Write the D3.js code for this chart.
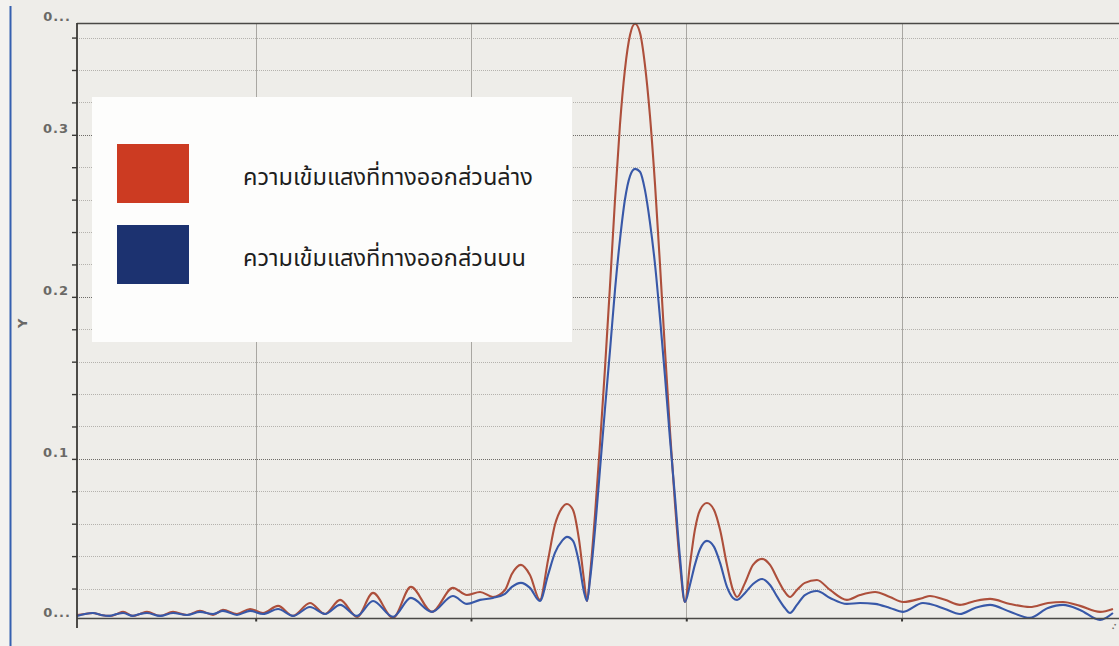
<!DOCTYPE html>
<html>
<head>
<meta charset="utf-8">
<script src="https://cdn.jsdelivr.net/npm/d3@7"></script>
<style>
  html, body { margin: 0; padding: 0; background: #eeede9; }
  svg { display: block; }
  .tick-label { font-family: "DejaVu Sans", sans-serif; font-size: 13px; font-weight: bold; fill: #6a6966; letter-spacing: 1px; }
  .legend-text { font-family: "Noto Sans Thai", "Noto Sans", sans-serif; font-size: 23.5px; fill: #1e1e1e; }
</style>
</head>
<body>
<svg id="chart" width="1119" height="646"></svg>
<script>
// Position along the screen (arbitrary units)
const positions = [
  0.170, 0.207, 0.244, 0.281, 0.323, 0.356, 0.384, 0.430, 0.463, 0.495,
  0.556, 0.616, 0.681, 0.741, 0.802, 0.848, 0.913, 0.974, 1.034, 1.104,
  1.173, 1.252, 1.322, 1.392, 1.471, 1.545, 1.638, 1.721, 1.819, 1.916,
  1.981, 2.042, 2.102, 2.158, 2.190, 2.232, 2.274, 2.320, 2.358, 2.390,
  2.423, 2.446, 2.474, 2.502, 2.525, 2.539, 2.553, 2.576, 2.599, 2.622,
  2.646, 2.669, 2.692, 2.715, 2.739, 2.762, 2.785, 2.808, 2.831, 2.855,
  2.878, 2.901, 2.924, 2.948, 2.971, 2.994, 3.017, 3.040, 3.064, 3.096,
  3.129, 3.157, 3.189, 3.217, 3.236, 3.273, 3.310, 3.352, 3.389, 3.426,
  3.458, 3.482, 3.514, 3.551, 3.607, 3.668, 3.746, 3.807, 3.877, 3.946,
  4.007, 4.099, 4.132, 4.202, 4.271, 4.341, 4.411, 4.504, 4.596, 4.680,
  4.750, 4.829, 4.922, 4.982
];

// Light intensity at the lower exit
const lowerExit = [
  0.0037, 0.0043, 0.0049, 0.0037, 0.0031, 0.0043, 0.0056, 0.0031, 0.0043, 0.0056,
  0.0031, 0.0056, 0.0037, 0.0062, 0.0037, 0.0068, 0.0043, 0.0074, 0.0049, 0.0093,
  0.0031, 0.0111, 0.0043, 0.0130, 0.0025, 0.0173, 0.0019, 0.0210, 0.0056, 0.0204,
  0.0160, 0.0179, 0.0148, 0.0191, 0.0290, 0.0346, 0.0284, 0.0130, 0.0377, 0.0593,
  0.0698, 0.0722, 0.0685, 0.0500, 0.0253, 0.0123, 0.0284, 0.0654, 0.1086, 0.1549,
  0.2074, 0.2599, 0.3062, 0.3401, 0.3617, 0.3685, 0.3630, 0.3432, 0.3123, 0.2691,
  0.2198, 0.1673, 0.1179, 0.0716, 0.0346, 0.0117, 0.0346, 0.0562, 0.0685, 0.0728,
  0.0685, 0.0562, 0.0346, 0.0191, 0.0148, 0.0235, 0.0346, 0.0383, 0.0346, 0.0253,
  0.0179, 0.0148, 0.0191, 0.0235, 0.0253, 0.0191, 0.0130, 0.0160, 0.0179, 0.0148,
  0.0117, 0.0142, 0.0154, 0.0130, 0.0099, 0.0123, 0.0136, 0.0105, 0.0086, 0.0111,
  0.0117, 0.0093, 0.0056, 0.0074
];

// Light intensity at the upper exit
const upperExit = [
  0.0031, 0.0043, 0.0049, 0.0037, 0.0031, 0.0043, 0.0049, 0.0031, 0.0043, 0.0049,
  0.0031, 0.0049, 0.0037, 0.0056, 0.0043, 0.0062, 0.0037, 0.0062, 0.0043, 0.0074,
  0.0031, 0.0086, 0.0043, 0.0099, 0.0031, 0.0123, 0.0025, 0.0142, 0.0056, 0.0154,
  0.0105, 0.0130, 0.0142, 0.0167, 0.0210, 0.0235, 0.0204, 0.0123, 0.0284, 0.0420,
  0.0494, 0.0519, 0.0494, 0.0358, 0.0179, 0.0123, 0.0253, 0.0562, 0.0932, 0.1302,
  0.1673, 0.2043, 0.2352, 0.2599, 0.2747, 0.2790, 0.2772, 0.2660, 0.2463, 0.2198,
  0.1870, 0.1512, 0.1130, 0.0759, 0.0389, 0.0117, 0.0222, 0.0346, 0.0444, 0.0494,
  0.0457, 0.0358, 0.0210, 0.0142, 0.0130, 0.0173, 0.0228, 0.0259, 0.0222, 0.0142,
  0.0080, 0.0049, 0.0099, 0.0160, 0.0185, 0.0142, 0.0105, 0.0111, 0.0105, 0.0080,
  0.0056, 0.0111, 0.0105, 0.0074, 0.0043, 0.0080, 0.0099, 0.0056, 0.0019, 0.0080,
  0.0099, 0.0068, 0.0006, 0.0049
];

const seriesNames = ["ความเข้มแสงที่ทางออกส่วนล่าง", "ความเข้มแสงที่ทางออกส่วนบน"];
const seriesColors = ["#ad4f3b", "#3858a8"];
const swatchColors = ["#cc3b22", "#1c3270"];

const yMinorTicks = [0.02, 0.04, 0.06, 0.08, 0.1, 0.12, 0.14, 0.16, 0.18, 0.2,
                     0.22, 0.24, 0.26, 0.28, 0.3, 0.32, 0.34, 0.36];
const yMajorTicks = [0.1, 0.2, 0.3];
const yTickLabels = ["0.1", "0.2", "0.3"];
const yEndLabel = "0...";
const xTicks = [1, 2, 3, 4];
const yDomain = [0.0015, 0.369];
const xDomain = [0.17, 5.01];

const svg = d3.select("#chart");
const W = 1119, H = 646;
const plot = { left: 77, top: 23, right: 1119, bottom: 618.5 };

const x = d3.scaleLinear().domain(xDomain).range([plot.left, plot.right]);
const y = d3.scaleLinear().domain(yDomain).range([plot.bottom, plot.top]);

// window frame edge
svg.append("rect").attr("x", 0).attr("y", 0).attr("width", 10).attr("height", H).attr("fill", "#f3f2ef");
svg.append("line").attr("x1", 10.5).attr("x2", 10.5).attr("y1", 6).attr("y2", H)
  .attr("stroke", "#3560b0").attr("stroke-width", 2);

// horizontal grid
const grid = svg.append("g");
grid.selectAll("line.minor").data(yMinorTicks.filter(v => !yMajorTicks.includes(v)))
  .join("line").attr("class", "minor")
  .attr("x1", plot.left).attr("x2", plot.right)
  .attr("y1", d => Math.round(y(d)) + 0.5).attr("y2", d => Math.round(y(d)) + 0.5)
  .attr("stroke", "#b4b2ad").attr("stroke-width", 1).attr("stroke-dasharray", "1,1");
grid.selectAll("line.major").data(yMajorTicks)
  .join("line").attr("class", "major")
  .attr("x1", plot.left).attr("x2", plot.right)
  .attr("y1", d => Math.round(y(d)) + 0.5).attr("y2", d => Math.round(y(d)) + 0.5)
  .attr("stroke", "#6e6c68").attr("stroke-width", 1.2).attr("stroke-dasharray", "1,1");

// vertical grid
grid.selectAll("line.vx").data(xTicks)
  .join("line").attr("class", "vx")
  .attr("x1", d => Math.round(x(d)) + 0.5).attr("x2", d => Math.round(x(d)) + 0.5)
  .attr("y1", plot.top).attr("y2", plot.bottom)
  .attr("stroke", "#a9a7a2").attr("stroke-width", 1);

// legend
const legend = svg.append("g");
legend.append("rect").attr("x", 92).attr("y", 97).attr("width", 480).attr("height", 245)
  .attr("fill", "#fdfdfc");
seriesNames.forEach((name, i) => {
  const top = 144 + i * 81;
  legend.append("rect").attr("x", 117).attr("y", top).attr("width", 72).attr("height", 59)
    .attr("fill", swatchColors[i]);
  legend.append("text").attr("class", "legend-text")
    .attr("x", 243).attr("y", top + 41).text(name);
});

// series
const line = d3.line().x((d, i) => x(positions[i])).y(d => y(d)).curve(d3.curveMonotoneX);
[lowerExit, upperExit].forEach((vals, i) => {
  svg.append("path").datum(vals)
    .attr("fill", "none").attr("stroke", seriesColors[i]).attr("stroke-width", 2.1)
    .attr("stroke-linejoin", "round").attr("d", line);
});

// axes frame
svg.append("line").attr("x1", plot.left).attr("x2", plot.right).attr("y1", plot.top + 0.5).attr("y2", plot.top + 0.5)
  .attr("stroke", "#4a4946").attr("stroke-width", 1.6);
svg.append("line").attr("x1", plot.left).attr("x2", plot.right).attr("y1", plot.bottom).attr("y2", plot.bottom)
  .attr("stroke", "#4a4946").attr("stroke-width", 1.6);

const yAxis = d3.axisLeft(y).tickValues(yMinorTicks).tickSize(5)
  .tickFormat(d => { const k = yMajorTicks.indexOf(d); return k >= 0 ? yTickLabels[k] : ""; });
const gy = svg.append("g").attr("transform", `translate(${plot.left},0)`).call(yAxis);
gy.select(".domain").remove();
gy.selectAll(".tick line").attr("stroke", "#3a3936").attr("stroke-width", 1.4);
gy.selectAll(".tick text").attr("class", "tick-label").attr("x", -8).attr("dy", "-0.2em");
svg.append("line").attr("x1", plot.left).attr("x2", plot.left).attr("y1", plot.top).attr("y2", 628)
  .attr("stroke", "#3a3936").attr("stroke-width", 1.8);

// truncated end labels of the value axis
[yDomain[1], yDomain[0]].forEach(v => {
  svg.append("text").attr("class", "tick-label").attr("text-anchor", "end")
    .attr("x", plot.left - 6).attr("y", y(v) - 2).text(yEndLabel);
});

// bottom axis ticks
const xAxis = d3.axisBottom(x).tickValues(xTicks).tickSize(3).tickFormat("");
const gx = svg.append("g").attr("transform", `translate(0,${plot.bottom})`).call(xAxis);
gx.select(".domain").remove();
gx.selectAll(".tick line").attr("stroke", "#3a3936").attr("stroke-width", 2);

svg.append("text").attr("class", "tick-label")
  .attr("transform", `translate(1113,630) rotate(-60)`).style("font-size", "8px").text("..");

// axis title
svg.append("text").attr("class", "tick-label")
  .attr("transform", `translate(27,${(plot.top + plot.bottom) / 2 + 2}) rotate(-90)`)
  .attr("text-anchor", "middle").text("Y");
</script>
</body>
</html>
